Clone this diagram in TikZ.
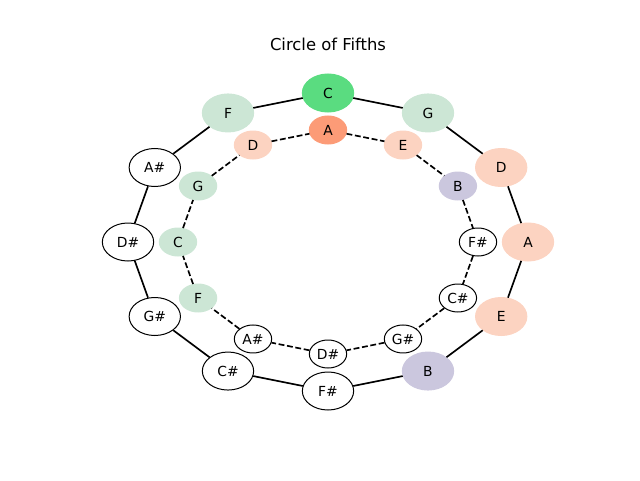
\documentclass[tikz,border=0pt]{standalone}
\usepackage{fontspec}
\setmainfont{DejaVu Sans}
\usetikzlibrary{shapes.geometric}
\definecolor{cgreen}{HTML}{5ADC80}
\definecolor{cpalegreen}{HTML}{CCE6D5}
\definecolor{csalmon}{HTML}{FC9B77}
\definecolor{cpeach}{HTML}{FCD3C1}
\definecolor{clilac}{HTML}{CBC7DE}
\tikzset{
  outernote/.style={ellipse,minimum width=38.5pt,minimum height=28.5pt,inner sep=0pt,line width=0.75pt,font=\fontsize{10.4}{12}\selectfont},
  innernote/.style={ellipse,minimum width=28pt,minimum height=21pt,inner sep=0pt,line width=0.75pt,font=\fontsize{10.4}{12}\selectfont},
  fifthline/.style={line width=1.25pt},
  thirdline/.style={line width=1.25pt,dash pattern=on 4.4pt off 2pt}
}
\begin{document}
\begin{tikzpicture}[x=0.75pt,y=0.75pt]
\useasboundingbox (0,0) rectangle (640,480);
\node[font=\fontsize{12.3}{14}\selectfont] (title) at (328,436) {Circle of Fifths};
\begin{scope}[shift={(328,238)}]
% outer ring: major keys
\foreach \n/\c/\b [count=\k from 0] in {C/cgreen/cgreen,G/cpalegreen/cpalegreen,D/cpeach/cpeach,A/cpeach/cpeach,E/cpeach/cpeach,B/clilac/clilac,F\#/white/black,C\#/white/black,G\#/white/black,D\#/white/black,A\#/white/black,F/cpalegreen/cpalegreen}{
  \pgfmathsetmacro{\t}{90-30*\k}
  \node[outernote,fill=\c,draw=\b] (o\k) at (\t:200 and 149) {\n};
}
% inner ring: relative minors
\foreach \n/\c/\b [count=\k from 0] in {A/csalmon/csalmon,E/cpeach/cpeach,B/clilac/clilac,F\#/white/black,C\#/white/black,G\#/white/black,D\#/white/black,A\#/white/black,F/cpalegreen/cpalegreen,C/cpalegreen/cpalegreen,G/cpalegreen/cpalegreen,D/cpeach/cpeach}{
  \pgfmathsetmacro{\t}{90-30*\k}
  \node[innernote,fill=\c,draw=\b] (i\k) at (\t:150 and 112) {\n};
}
\foreach \k in {0,...,11}{
  \pgfmathtruncatemacro{\j}{mod(\k+1,12)}
  \draw[fifthline] (o\k)--(o\j);
  \draw[thirdline] (i\k)--(i\j);
}
\end{scope}
\end{tikzpicture}
\end{document}
